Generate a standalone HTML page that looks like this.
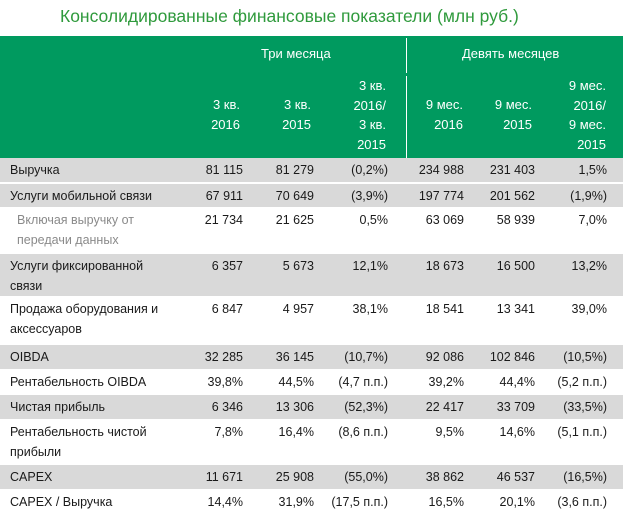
<!DOCTYPE html>
<html><head><meta charset="utf-8"><style>
body{margin:0;width:623px;height:512px;overflow:hidden;background:#fff;font-family:"Liberation Sans","DejaVu Sans",sans-serif;font-size:12.5px;color:#1a1a1a}
.a{position:absolute;white-space:nowrap}
.r{position:absolute;left:0;width:623px}
.g{background:#d9d9d9}
.n{position:absolute;text-align:right;white-space:nowrap;line-height:20px}
.h{color:#fff;line-height:19.5px;text-align:right;position:absolute;font-size:13px}
</style></head><body>
<div class="a" style="left:60px;top:6px;font-size:17.5px;color:#2f9a3c">Консолидированные финансовые показатели (млн руб.)</div>
<div class="r" style="top:36px;height:122px;background:#009a5f"></div>
<div class="a" style="left:406px;top:38px;width:1px;height:474px;background:#fff"></div>
<div class="a" style="left:406px;top:73px;width:1px;height:3px;background:#009a5f"></div>
<div class="a" style="left:261px;top:46px;color:#fff;font-size:13px">Три месяца</div>
<div class="a" style="left:462px;top:46px;color:#fff;font-size:13px">Девять месяцев</div>
<div class="h" style="right:383px;top:95px">3 кв.<br>2016</div>
<div class="h" style="right:312px;top:95px">3 кв.<br>2015</div>
<div class="h" style="right:237px;top:76px">3 кв.<br>2016/<br>3 кв.<br>2015</div>
<div class="h" style="right:160px;top:95px">9 мес.<br>2016</div>
<div class="h" style="right:91px;top:95px">9 мес.<br>2015</div>
<div class="h" style="right:17px;top:76px">9 мес.<br>2016/<br>9 мес.<br>2015</div>
<div id="t"></div>
<script>
var rows=[
[158,25,1,"Выручка",["81 115","81 279","(0,2%)","234 988","231 403","1,5%"]],
[184,24,1,"Услуги мобильной связи",["67 911","70 649","(3,9%)","197 774","201 562","(1,9%)"]],
[208,46,0,"Включая выручку от<br>передачи данных",["21 734","21 625","0,5%","63 069","58 939","7,0%"],1],
[254,43,1,"Услуги фиксированной<br>связи",["6 357","5 673","12,1%","18 673","16 500","13,2%"]],
[297,47,0,"Продажа оборудования и<br>аксессуаров",["6 847","4 957","38,1%","18 541","13 341","39,0%"]],
[345,25,1,"OIBDA",["32 285","36 145","(10,7%)","92 086","102 846","(10,5%)"]],
[370,25,0,"Рентабельность OIBDA",["39,8%","44,5%","(4,7 п.п.)","39,2%","44,4%","(5,2 п.п.)"]],
[395,25,1,"Чистая прибыль",["6 346","13 306","(52,3%)","22 417","33 709","(33,5%)"]],
[420,45,0,"Рентабельность чистой<br>прибыли",["7,8%","16,4%","(8,6 п.п.)","9,5%","14,6%","(5,1 п.п.)"]],
[465,25,1,"CAPEX",["11 671","25 908","(55,0%)","38 862","46 537","(16,5%)"]],
[490,22,0,"CAPEX / Выручка",["14,4%","31,9%","(17,5 п.п.)","16,5%","20,1%","(3,6 п.п.)"]]];
var R=[243,314,388,464,535,607],h="";
rows.forEach(function(r){
 if(r[2])h+='<div class="r g" style="top:'+r[0]+'px;height:'+(r[1]-1)+'px"></div>';
 h+='<div class="a" style="left:'+(r[5]?17:10)+'px;top:'+(r[0]+2)+'px;line-height:20px;'+(r[5]?'color:#8a8a8a':'')+'">'+r[3]+'</div>';
 r[4].forEach(function(v,i){h+='<div class="n" style="right:'+(623-R[i])+'px;top:'+(r[0]+2)+'px">'+v+'</div>';});
});
document.getElementById('t').innerHTML=h;
</script>
</body></html>
